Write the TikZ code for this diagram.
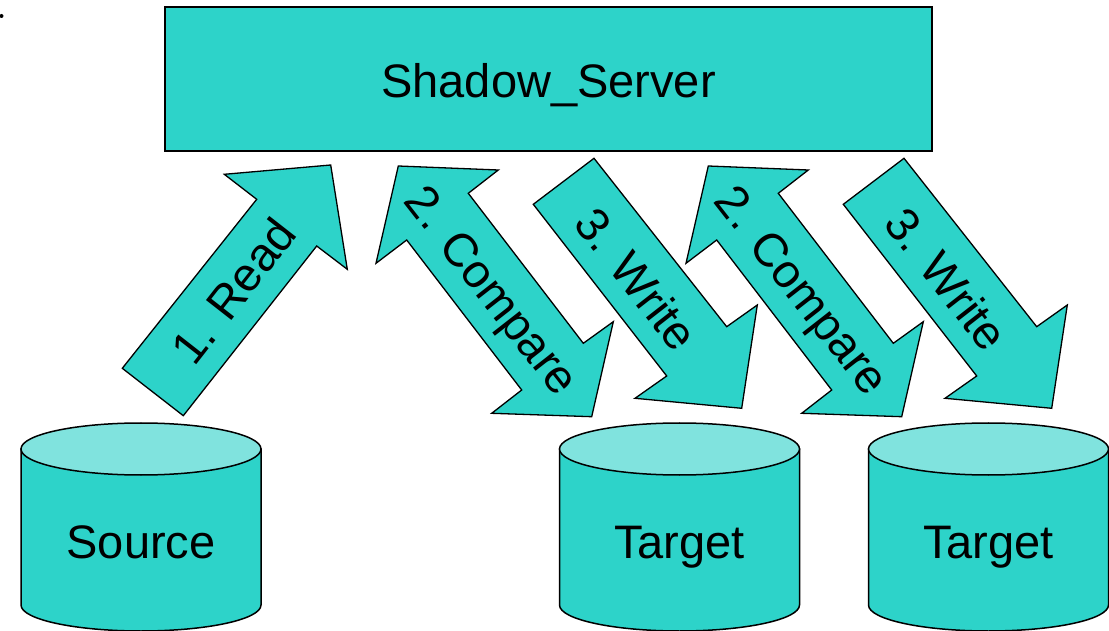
\documentclass[tikz,border=0pt]{standalone}
\usepackage{fontspec}
\setmainfont{Liberation Sans}
\definecolor{teal1}{HTML}{2DD3C9}
\definecolor{teal2}{HTML}{80E3DE}
\tikzset{
  blockarrow/.style={draw=black, line width=1.3pt, fill=teal1, line join=miter},
  lbl/.style={font=\fontsize{47}{56}\selectfont, text=black, inner sep=0pt},
  cylbody/.style={draw=black, line width=1.5pt, fill=teal1},
  cyltop/.style={draw=black, line width=1.5pt, fill=teal2},
  serverbox/.style={draw=black, line width=2.2pt, fill=teal1}
}
\begin{document}
\begin{tikzpicture}[x=1pt,y=1pt]
\useasboundingbox (0,0) rectangle (1109,630);
% stray mark
\fill[black] (1.5,614) circle (2);
% server
\draw[serverbox] (165,623) rectangle (932,479);
\node[lbl, anchor=base] (server) at (548.5,532) {Shadow\_Server};
% cylinders
\foreach \cx/\nm/\txt in {141/src/Source, 679.5/tgtA/Target, 988.5/tgtB/Target}{
  \draw[cylbody] (\cx-120,181) -- (\cx-120,25) arc[start angle=180, end angle=360, x radius=120, y radius=26] -- (\cx+120,181) -- cycle;
  \draw[cyltop] (\cx,181) ellipse[x radius=120, y radius=26];
  \node[lbl, anchor=base] (\nm) at (\cx,72) {\txt};
}
% arrow 1: Read
\draw[blockarrow] (122.3,261.7) -- (183.3,214.3) -- (316.7,384) -- (347.3,360.7) -- (330.7,465) -- (224.3,455.7) -- (256.7,430.7) -- cycle;
\node[lbl, rotate=52] (read) at (233,339) {1. Read};
% compare / write pairs
\foreach \s/\k in {0/a, 310/b}{
  \begin{scope}[xshift=\s pt]
  \draw[blockarrow] (398.3,464) -- (498.3,460) -- (468.3,436.7) -- (583.3,286.7) -- (613.3,308.3) -- (591.7,213.3) -- (491.7,216.7) -- (521.7,240) -- (406.7,390) -- (376,366.7) -- cycle;
  \node[lbl, rotate=-52] (compare\k) at (489,337) {2. Compare};
  \draw[blockarrow] (533.3,425.7) -- (594,471.7) -- (726.7,303.3) -- (757.3,325) -- (741.7,221.7) -- (635,231.7) -- (666.7,254) -- cycle;
  \node[lbl, rotate=-52] (write\k) at (637,351) {3. Write};
  \end{scope}
}
\end{tikzpicture}
\end{document}
